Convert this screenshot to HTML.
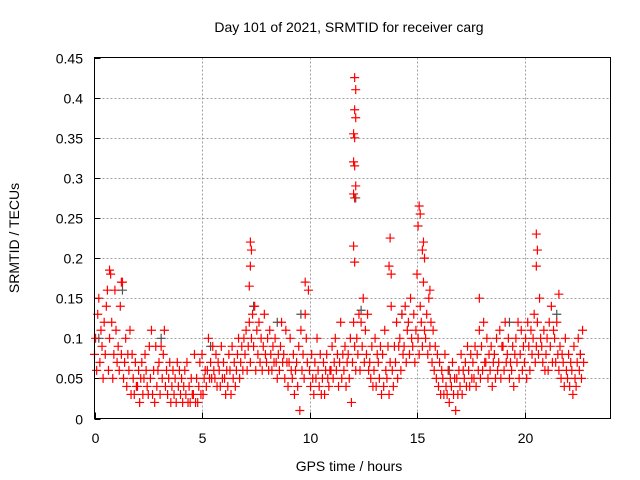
<!DOCTYPE html>
<html><head><meta charset="utf-8"><style>
body{margin:0;background:#fff}
svg{display:block;font-family:"Liberation Sans",sans-serif}
</style></head><body>
<svg id="chart" width="640" height="480">
<text x="349" y="32" font-size="14" text-anchor="middle" fill="#000">Day 101 of 2021, SRMTID for receiver carg</text>
<text x="349" y="471" font-size="14" text-anchor="middle">GPS time / hours</text>
<text transform="translate(19,238) rotate(-90)" font-size="14" text-anchor="middle">SRMTID / TECUs</text>
<g id="grid"></g>
<g id="ticks"></g>
<g id="gray"></g>
<g id="red"></g>
<rect x="94.5" y="57.5" width="516" height="361" fill="none" stroke="#000"/>
</svg>
<script>
const xTicks=[0,5,10,15,20];
const yTicks=[0,0.05,0.1,0.15,0.2,0.25,0.3,0.35,0.4,0.45];
const yTickLabels=["0","0.05","0.1","0.15","0.2","0.25","0.3","0.35","0.4","0.45"];
const binStep=0.2;
const binVals=[
[0.08,0.10,0.06,0.13],[0.15,0.07,0.11,0.09],[0.05,0.12,0.08,0.14],[0.16,0.06,0.10,0.18],[0.12,0.05,0.08,0.16],
[0.11,0.07,0.09,0.06],[0.14,0.08,0.17,0.05],[0.07,0.10,0.04,0.08],[0.06,0.11,0.03,0.08],[0.05,0.03,0.07,0.04],
[0.04,0.06,0.02,0.05],[0.07,0.03,0.05,0.08],[0.06,0.04,0.03,0.09],[0.05,0.11,0.03,0.06],[0.02,0.09,0.04,0.06],
[0.07,0.03,0.09,0.05],[0.08,0.11,0.04,0.06],[0.03,0.05,0.07,0.02],[0.04,0.06,0.03,0.05],[0.02,0.07,0.04,0.06],
[0.03,0.05,0.02,0.04],[0.06,0.03,0.07,0.02],[0.04,0.02,0.05,0.03],[0.03,0.08,0.02,0.05],[0.02,0.04,0.07,0.03],
[0.08,0.03,0.05,0.06],[0.04,0.06,0.10,0.05],[0.07,0.05,0.09,0.06],[0.05,0.08,0.04,0.07],[0.06,0.04,0.09,0.05],
[0.07,0.05,0.03,0.06],[0.04,0.08,0.06,0.03],[0.09,0.05,0.07,0.04],[0.06,0.08,0.10,0.05],[0.07,0.09,0.06,0.10],
[0.08,0.11,0.06,0.09],[0.12,0.07,0.10,0.13],[0.09,0.14,0.06,0.11],[0.08,0.12,0.07,0.10],[0.06,0.09,0.13,0.08],
[0.07,0.10,0.06,0.11],[0.08,0.06,0.09,0.07],[0.10,0.07,0.05,0.08],[0.06,0.09,0.12,0.07],[0.08,0.05,0.11,0.07],
[0.04,0.07,0.10,0.06],[0.05,0.08,0.03,0.06],[0.07,0.04,0.09,0.01],[0.11,0.06,0.08,0.05],[0.13,0.10,0.07,0.16],
[0.06,0.04,0.08,0.05],[0.03,0.07,0.05,0.10],[0.06,0.04,0.08,0.03],[0.05,0.07,0.03,0.06],[0.08,0.05,0.04,0.06],
[0.06,0.09,0.05,0.07],[0.10,0.06,0.08,0.04],[0.07,0.12,0.05,0.08],[0.06,0.09,0.04,0.07],[0.08,0.05,0.10,0.02],
[0.07,0.12,0.09,0.06],[0.10,0.08,0.13,0.06],[0.12,0.09,0.15,0.07],[0.11,0.08,0.13,0.06],[0.07,0.05,0.09,0.04],
[0.06,0.10,0.04,0.08],[0.07,0.05,0.09,0.03],[0.08,0.04,0.11,0.06],[0.05,0.09,0.03,0.07],[0.14,0.06,0.04,0.09],
[0.07,0.12,0.05,0.09],[0.10,0.06,0.13,0.08],[0.09,0.14,0.07,0.11],[0.12,0.08,0.15,0.10],[0.09,0.13,0.07,0.11],
[0.18,0.10,0.08,0.14],[0.12,0.09,0.17,0.11],[0.10,0.13,0.08,0.15],[0.09,0.12,0.07,0.11],[0.06,0.09,0.05,0.08],
[0.04,0.07,0.03,0.06],[0.05,0.03,0.08,0.04],[0.03,0.06,0.02,0.05],[0.04,0.07,0.03,0.05],[0.01,0.05,0.03,0.06],
[0.04,0.08,0.03,0.06],[0.05,0.07,0.04,0.09],[0.06,0.04,0.08,0.05],[0.07,0.05,0.09,0.04],[0.08,0.06,0.11,0.05],
[0.09,0.06,0.12,0.07],[0.07,0.10,0.05,0.08],[0.06,0.09,0.04,0.07],[0.08,0.05,0.10,0.06],[0.07,0.11,0.05,0.09],
[0.09,0.06,0.12,0.07],[0.08,0.10,0.05,0.07],[0.06,0.09,0.04,0.08],[0.10,0.07,0.12,0.05],[0.08,0.11,0.06,0.09],
[0.07,0.10,0.05,0.12],[0.09,0.06,0.11,0.08],[0.10,0.13,0.07,0.09],[0.12,0.08,0.15,0.10],[0.09,0.07,0.11,0.06],
[0.08,0.10,0.06,0.12],[0.09,0.14,0.07,0.11],[0.10,0.07,0.12,0.08],[0.06,0.09,0.05,0.08],[0.07,0.04,0.10,0.06],
[0.05,0.08,0.04,0.07],[0.06,0.03,0.09,0.05],[0.04,0.07,0.10,0.06],[0.08,0.05,0.11,0.07]
];
const spikeTimes=[0.7,1.25,7.25,7.3,7.25,7.2,9.8,12.1,12.15,12.1,12.15,12.05,12.1,12.05,12.1,12.15,12.05,12.1,12.05,12.1,13.75,13.7,13.8,15.1,15.15,15.05,15.3,15.25,15.35,15.6,17.9,20.55,20.6,20.55,21.6];
const spikeVals=[0.185,0.17,0.22,0.21,0.19,0.165,0.17,0.425,0.41,0.385,0.375,0.355,0.35,0.32,0.315,0.29,0.28,0.275,0.215,0.195,0.225,0.19,0.18,0.265,0.255,0.24,0.22,0.21,0.2,0.16,0.15,0.23,0.21,0.19,0.155];
const grayTimes=[12.15,7.4,1.3,9.6,12.4,0.2,3.1,8.5,14.3,19.3,21.5,22.6,5.4,16.5];
const grayVals=[0.275,0.14,0.16,0.13,0.135,0.1,0.1,0.12,0.13,0.12,0.13,0.08,0.09,0.06];

const X0=94.5,XPX=21.5,Y0=418.5,YPX=802;
const xs=t=>X0+t*XPX, ys=v=>Y0-v*YPX;
const NS="http://www.w3.org/2000/svg";
function mk(tag,attrs,parent){const e=document.createElementNS(NS,tag);for(const k in attrs)e.setAttribute(k,attrs[k]);parent.appendChild(e);return e;}
const grid=document.getElementById('grid'),ticks=document.getElementById('ticks');
xTicks.forEach(t=>{
  const x=Math.round(xs(t))+0.5;
  if(t>0){const g=mk('line',{x1:x,x2:x,y1:57.5,y2:418.5,stroke:'#a0a0a0','stroke-dasharray':'2,2'},grid);
  
  }
  const l=mk('text',{x:x,y:443,'font-size':14,'text-anchor':'middle'},ticks);l.textContent=t;
  
  
  mk('line',{x1:x,x2:x,y1:418.5,y2:412.5,stroke:'#000'},ticks);
});
yTicks.forEach((v,i)=>{
  const y=Math.round(ys(v))+0.5;
  if(i>0&&i<yTicks.length-1){const g=mk('line',{x1:94.5,x2:610.5,y1:y,y2:y,stroke:'#a0a0a0','stroke-dasharray':'2,2'},grid);
  
  }
  const l=mk('text',{x:83,y:y+5,'font-size':14,'text-anchor':'end'},ticks);l.textContent=yTickLabels[i];
  
  
  mk('line',{x1:94.5,x2:100.5,y1:y,y2:y,stroke:'#000'},ticks);
});
function plus(t,v,color,parent,name){
  const x=xs(t),y=ys(v);
  const p=mk('path',{d:`M${x-4.5} ${y}H${x+4.5}M${x} ${y-4.5}V${y+4.5}`,stroke:color,'stroke-width':1.2,fill:'none'},parent);
  
  
}
const gray=document.getElementById('gray'),red=document.getElementById('red');
grayTimes.forEach((t,i)=>plus(t,grayVals[i],'#505050',gray,'gray-point'));
binVals.forEach((arr,b)=>arr.forEach((v,j)=>plus(b*binStep+j*binStep/4,v,'#ff0000',red,'red-point')));
spikeTimes.forEach((t,i)=>plus(t,spikeVals[i],'#ff0000',red,'red-spike-point'));
</script>
</body></html>
